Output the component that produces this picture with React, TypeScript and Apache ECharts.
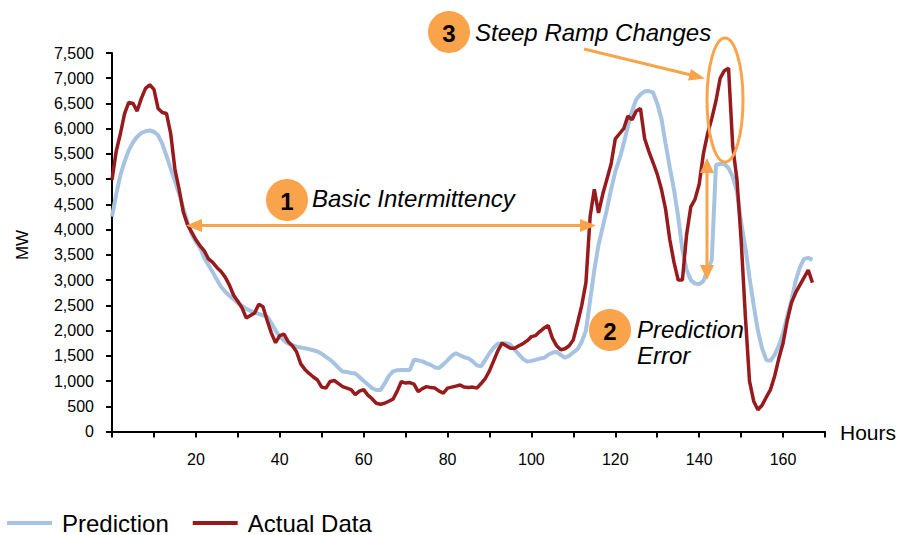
import React, { useEffect, useRef } from "react";
import * as echarts from "echarts";

const hours: number[] = Array.from({ length: 168 }, (_, i) => i);

const prediction: number[] = [
  4260, 4700, 5080, 5350, 5570, 5730, 5840, 5915, 5950, 5965,
  5940, 5870, 5700, 5460, 5210, 4960, 4710, 4420, 4150, 3910,
  3760, 3640, 3440, 3300, 3160, 3010, 2870, 2770, 2690, 2620,
  2545, 2490, 2430, 2390, 2360, 2330, 2300, 2280, 2150, 2000,
  1880, 1800, 1740, 1710, 1680, 1665, 1650, 1630, 1610, 1585,
  1540, 1480, 1420, 1350, 1260, 1190, 1180, 1160, 1150, 1080,
  1000, 930, 860, 823, 820, 950, 1100, 1190, 1215, 1220,
  1220, 1220, 1420, 1410, 1390, 1350, 1320, 1270, 1260, 1330,
  1410, 1500, 1550, 1510, 1470, 1450, 1390, 1310, 1290, 1420,
  1550, 1660, 1740, 1750, 1750, 1720, 1620, 1530, 1440, 1385,
  1400, 1420, 1445, 1460, 1520, 1560, 1580, 1520, 1460, 1500,
  1570, 1630, 1780, 2000, 2600, 3200, 3700, 4050, 4400, 4800,
  5150, 5400, 5700, 6050, 6350, 6580, 6680, 6740, 6745, 6720,
  6500, 6200, 5700, 5230, 4790, 4250, 3600, 3200, 3000, 2930,
  2920, 2980, 3200, 3400, 5280, 5300, 5300, 5220, 5050, 4750,
  4150, 3650, 3050, 2500, 2000, 1650, 1420, 1400, 1520, 1700,
  1950, 2280, 2600, 2980, 3250, 3420, 3440, 3400,
];

const actual: number[] = [
  4990, 5550, 5900, 6300, 6520, 6500, 6350, 6600, 6800, 6870,
  6780, 6400, 6320, 6300, 5900, 5200, 4800, 4350, 4100, 3950,
  3800, 3680, 3580, 3420, 3350, 3250, 3170, 3060, 2900, 2700,
  2580, 2450, 2250, 2300, 2350, 2520, 2470, 2200, 1950, 1760,
  1900, 1930, 1780, 1700, 1580, 1340, 1230, 1150, 1080, 1020,
  880, 860, 990, 1010, 950, 890, 860, 830, 730, 800,
  830, 720, 650, 560, 540, 560, 600, 640, 800, 990,
  960, 970, 940, 790, 850, 890, 870, 860, 800, 760,
  860, 880, 900, 920, 880, 870, 880, 860, 950, 1050,
  1200, 1400, 1600, 1750, 1700, 1650, 1650, 1700, 1740, 1800,
  1880, 1900, 1980, 2050, 2100, 1850, 1700, 1620, 1640, 1700,
  1820, 2150, 2500, 2950, 4260, 4800, 4330, 4700, 5000, 5300,
  5800, 5900, 6000, 6250, 6180, 6350, 6400, 5800, 5550, 5330,
  5100, 4800, 4400, 3800, 3350, 3000, 3000, 3900, 4450, 4600,
  4900, 5500, 5900, 6200, 6550, 7000, 7150, 7200, 5650, 5000,
  3800, 2300, 1000, 600, 430, 520, 680, 830, 1100, 1450,
  1750, 2200, 2550, 2750, 2900, 3050, 3200, 2950,
];

const seriesNames = ["Prediction", "Actual Data"];
const annotations = ["Basic Intermittency", "Prediction", "Error", "Steep Ramp Changes"];

const FONT = "'Liberation Sans', Arial, sans-serif";
const ORANGE = "#F9A34B";
const BLUE = "#A7C3E2";
const RED = "#971B1D";

export default function App() {
  const ref = useRef<HTMLDivElement>(null);
  useEffect(() => {
    document.body.style.margin = "0";
    if (!ref.current) return;
    const chart = echarts.init(ref.current, null, { renderer: "svg" });
    const circ = (cx: number, cy: number, n: string) => [
      { type: "circle", z: 100, shape: { cx, cy, r: 21 }, style: { fill: ORANGE } },
      {
        type: "text", z: 101, x: cx, y: cy + 1,
        style: { text: n, fontSize: 24, fontWeight: "bold", fontFamily: FONT, fill: "#000",
          textAlign: "center", textVerticalAlign: "middle", align: "center", verticalAlign: "middle" },
      },
    ];
    const label = (x: number, y: number, t: string) => ({
      type: "text", z: 101, x, y,
      style: { text: t, fontSize: 24, fontStyle: "italic", fontFamily: FONT, fill: "#000",
        textAlign: "left", textVerticalAlign: "middle", align: "left", verticalAlign: "middle" },
    });
    const lineSeg = (x1: number, y1: number, x2: number, y2: number) => ({
      type: "line", z: 100, shape: { x1, y1, x2, y2 }, style: { stroke: ORANGE, lineWidth: 3 },
    });
    const poly = (pts: number[][]) => ({ type: "polygon", z: 100, shape: { points: pts }, style: { fill: ORANGE } });

    chart.setOption({
      animation: false,
      grid: { left: 112, right: 75, top: 53, bottom: 103.5, containLabel: false },
      xAxis: {
        type: "value", min: 0, max: 170, interval: 10,
        axisLine: { show: true, lineStyle: { color: "#000", width: 2 } },
        axisTick: { show: true, length: 6, lineStyle: { color: "#000", width: 2 } },
        axisLabel: {
          margin: 20, fontSize: 16, color: "#000", fontFamily: FONT,
          formatter: (v: number) => (v > 0 && v < 170 && v % 20 === 0 ? String(v) : ""),
        },
        splitLine: { show: false },
      },
      yAxis: {
        type: "value", min: 0, max: 7500, interval: 500,
        axisLine: { show: true, lineStyle: { color: "#000", width: 2 } },
        axisTick: { show: true, length: 6, lineStyle: { color: "#000", width: 2 } },
        axisLabel: {
          margin: 18, fontSize: 16, color: "#000", fontFamily: FONT,
          formatter: (v: number) => v.toLocaleString("en-US"),
        },
        splitLine: { show: false },
      },
      legend: {
        data: seriesNames, left: 7, top: 511, padding: 0, icon: "rect", itemWidth: 45, itemHeight: 4,
        itemGap: 24,
        textStyle: { fontSize: 24, color: "#000", fontFamily: FONT, padding: [0, 0, 0, 5] },
      },
      series: [
        {
          name: seriesNames[0], type: "line", showSymbol: false, symbol: "none",
          data: hours.map((h, i) => [h, prediction[i]]),
          lineStyle: { color: BLUE, width: 4 }, itemStyle: { color: BLUE }, z: 2,
        },
        {
          name: seriesNames[1], type: "line", showSymbol: false, symbol: "none",
          data: hours.map((h, i) => [h, actual[i]]),
          lineStyle: { color: RED, width: 3.5 }, itemStyle: { color: RED }, z: 3,
        },
      ],
      graphic: [
        {
          type: "text", x: 22, y: 245, rotation: Math.PI / 2,
          style: { text: "MW", fontSize: 17, fontFamily: FONT, fill: "#000",
            textAlign: "center", textVerticalAlign: "middle", align: "center", verticalAlign: "middle" },
        },
        {
          type: "text", x: 840, y: 432,
          style: { text: "Hours", fontSize: 21, fontFamily: FONT, fill: "#000",
            textAlign: "left", textVerticalAlign: "middle", align: "left", verticalAlign: "middle" },
        },
        // 1 Basic Intermittency
        lineSeg(198, 225.5, 584, 225.5),
        poly([[186, 225.5], [202, 219], [202, 232]]),
        poly([[596, 225.5], [580, 219], [580, 232]]),
        ...circ(287, 200, "1"),
        label(312, 198, annotations[0]),
        // 2 Prediction Error
        lineSeg(707, 170, 707, 268),
        poly([[707, 158], [700, 173], [714, 173]]),
        poly([[707, 280], [700, 265], [714, 265]]),
        ...circ(610, 330, "2"),
        label(637, 329, annotations[1]),
        label(637, 355, annotations[2]),
        // 3 Steep Ramp Changes
        {
          type: "ellipse", z: 100, shape: { cx: 725, cy: 100, rx: 18, ry: 62 },
          style: { fill: "none", stroke: ORANGE, lineWidth: 3 },
        },
        lineSeg(584, 49, 690, 74.7),
        poly([[705, 78.5], [688.1, 80.5], [690.9, 68.9]]),
        ...circ(449, 32, "3"),
        label(475, 32, annotations[3]),
      ],
    });
    return () => chart.dispose();
  }, []);
  return <div ref={ref} style={{ width: 900, height: 535 }} />;
}
